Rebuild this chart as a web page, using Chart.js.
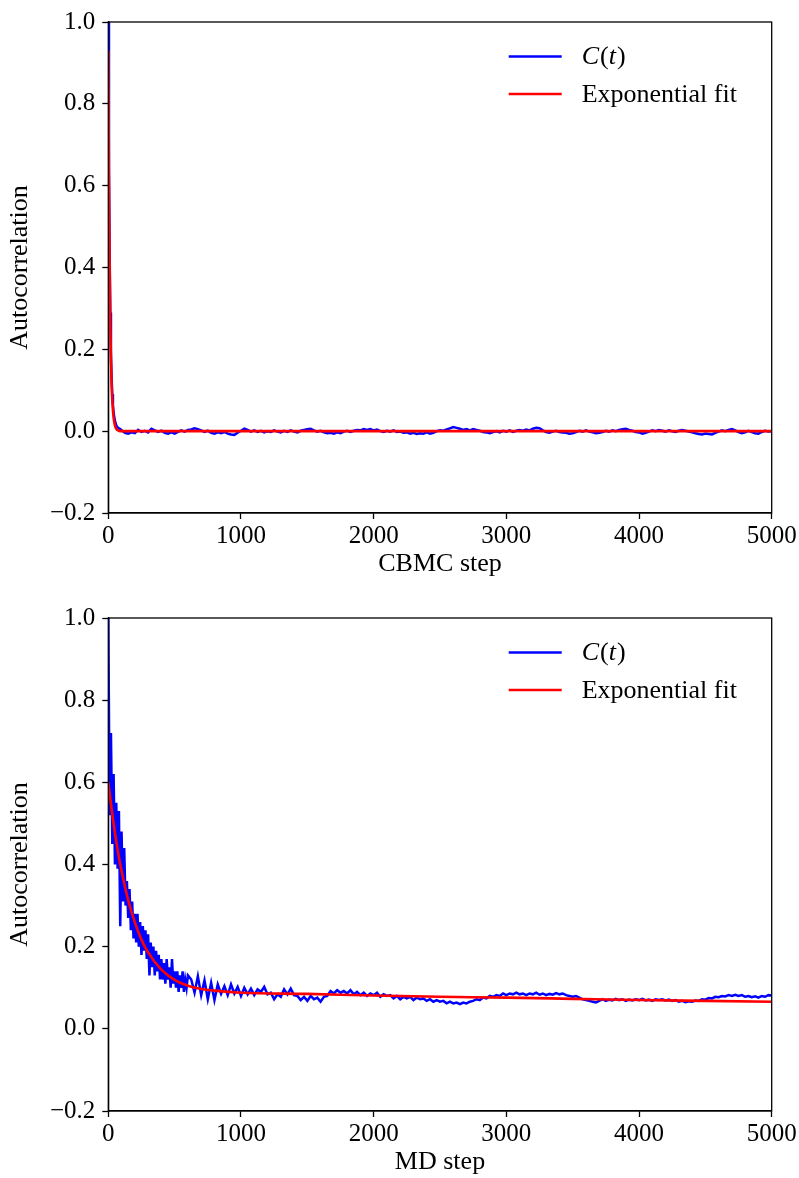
<!DOCTYPE html>
<html>
<head>
<meta charset="utf-8">
<script src="https://cdn.jsdelivr.net/npm/chart.js@4.4.1/dist/chart.umd.min.js"></script>
<style>
  html, body { margin: 0; padding: 0; background: #fff; }
  canvas { display: block; }
</style>
</head>
<body>
<canvas id="cbmc" width="799" height="589"></canvas>
<canvas id="md" width="799" height="589"></canvas>
<script>
// tick labels
const xTicks = [0, 1000, 2000, 3000, 4000, 5000];
const yTicks = [-0.2, 0.0, 0.2, 0.4, 0.6, 0.8, 1.0];

// ---- CBMC (top panel) ----
const cbmcHeadSteps = [0, 5, 10, 15, 20, 25, 30, 35, 40, 50, 60, 70, 80, 90, 100];
const cbmcHeadC = [1.0, 0.64, 0.44, 0.29, 0.19, 0.13, 0.09, 0.065, 0.045, 0.025, 0.014, 0.009, 0.007, 0.005, 0.002];
// from step 125 on, every 25 steps
const cbmcTailC = [
  -0.004, -0.006, -0.003, -0.005, 0.003, -0.002, 0.001, -0.003, 0.006, 0.002,
  -0.002, 0.001, -0.004, -0.006, -0.003, -0.006, -0.002, 0.002, -0.001, 0.003,
  0.004, 0.007, 0.005, 0.002, -0.002, 0.001, -0.004, -0.006, -0.003, -0.005,
  -0.002, -0.006, -0.008, -0.009, -0.004, 0.001, 0.006, 0.003, -0.001, 0.002,
  -0.002, 0.001, -0.003, 0.000, -0.002, 0.002, -0.001, -0.003, 0.001, -0.002,
  0.002, -0.001, -0.003, 0.001, 0.003, 0.005, 0.006, 0.002, -0.001, 0.001,
  -0.003, -0.005, -0.004, -0.006, -0.003, -0.005, -0.001, 0.001, -0.002, 0.001,
  0.003, 0.002, 0.005, 0.003, 0.005, 0.002, 0.004, 0.000, -0.002, 0.001,
  -0.001, 0.002, -0.002, -0.001, -0.004, -0.003, -0.006, -0.004, -0.007, -0.005,
  -0.006, -0.003, -0.006, -0.004, 0.000, 0.002, 0.001, 0.004, 0.007, 0.010,
  0.008, 0.006, 0.003, 0.005, 0.002, 0.005, 0.003, 0.001, -0.002, -0.003,
  -0.005, -0.002, 0.000, -0.003, 0.001, -0.001, 0.002, -0.002, 0.001, 0.003,
  0.001, 0.004, 0.002, 0.006, 0.008, 0.007, 0.002, -0.002, -0.004, -0.001,
  0.001, -0.002, -0.003, -0.004, -0.006, -0.005, -0.002, 0.001, -0.001, 0.002,
  -0.001, -0.003, -0.005, -0.004, -0.002, 0.001, -0.001, 0.002, 0.000, 0.003,
  0.005, 0.006, 0.003, 0.001, -0.002, -0.003, -0.006, -0.004, -0.001, 0.002,
  0.000, 0.003, 0.001, -0.001, 0.002, 0.000, -0.002, 0.001, 0.003, 0.001,
  -0.001, -0.003, -0.005, -0.007, -0.008, -0.006, -0.007, -0.008, -0.004, -0.001,
  0.002, 0.000, 0.003, 0.005, 0.002, -0.002, -0.005, -0.003, 0.001, -0.002,
  -0.005, -0.006, -0.002, 0.001, -0.001, 0.000
];
const cbmcFitSteps = [0, 5, 10, 15, 20, 25, 30, 40, 50, 60, 80, 100, 200, 5000];
const cbmcFit = [0.93, 0.611, 0.405, 0.266, 0.176, 0.116, 0.076, 0.033, 0.014, 0.006, 0.001, 0, 0, 0];

// ---- MD (bottom panel) ----
// steps 0..600, every 10 steps
const mdHeadC = [
  1.00, 0.52, 0.72, 0.45, 0.62, 0.40, 0.55, 0.39, 0.53, 0.25,
  0.48, 0.31, 0.44, 0.30, 0.36, 0.27, 0.34, 0.24, 0.31, 0.22,
  0.28, 0.21, 0.28, 0.20, 0.26, 0.18, 0.25, 0.19, 0.24, 0.17,
  0.23, 0.13, 0.21, 0.15, 0.20, 0.13, 0.19, 0.14, 0.18, 0.12,
  0.17, 0.12, 0.16, 0.11, 0.17, 0.12, 0.15, 0.10, 0.17, 0.11,
  0.14, 0.10, 0.14, 0.09, 0.13, 0.10, 0.14, 0.09, 0.12, 0.10,
  0.13
];
// steps 625..5000, every 25 steps
const mdTailC = [
  0.120, 0.088, 0.128, 0.082, 0.118, 0.072, 0.112, 0.070, 0.108, 0.085,
  0.104, 0.082, 0.108, 0.086, 0.102, 0.080, 0.100, 0.084, 0.098, 0.082,
  0.096, 0.090, 0.102, 0.084, 0.088, 0.072, 0.084, 0.078, 0.096, 0.084,
  0.098, 0.082, 0.080, 0.070, 0.078, 0.068, 0.080, 0.072, 0.076, 0.066,
  0.078, 0.080, 0.092, 0.086, 0.094, 0.088, 0.092, 0.086, 0.094, 0.084,
  0.090, 0.082, 0.088, 0.080, 0.086, 0.082, 0.088, 0.078, 0.084, 0.080,
  0.082, 0.074, 0.080, 0.072, 0.078, 0.074, 0.078, 0.070, 0.076, 0.072,
  0.074, 0.068, 0.072, 0.066, 0.070, 0.066, 0.068, 0.062, 0.066, 0.062,
  0.064, 0.060, 0.064, 0.062, 0.066, 0.068, 0.072, 0.070, 0.076, 0.074,
  0.080, 0.078, 0.082, 0.080, 0.086, 0.082, 0.086, 0.084, 0.088, 0.084,
  0.086, 0.082, 0.086, 0.084, 0.088, 0.083, 0.086, 0.082, 0.085, 0.083,
  0.087, 0.084, 0.086, 0.082, 0.080, 0.078, 0.080, 0.076, 0.072, 0.070,
  0.068, 0.066, 0.064, 0.068, 0.072, 0.068, 0.071, 0.069, 0.073, 0.070,
  0.072, 0.068, 0.071, 0.069, 0.072, 0.070, 0.073, 0.069, 0.071, 0.068,
  0.072, 0.070, 0.072, 0.069, 0.071, 0.068, 0.070, 0.066, 0.068, 0.065,
  0.067, 0.066, 0.069, 0.068, 0.072, 0.071, 0.075, 0.074, 0.078, 0.077,
  0.080, 0.079, 0.082, 0.080, 0.083, 0.080, 0.082, 0.078, 0.080, 0.077,
  0.079, 0.076, 0.080, 0.078, 0.082, 0.081
];
const mdFitSteps = [0, 25, 50, 75, 100, 150, 200, 250, 300, 400, 500, 600, 700, 800, 1000, 1500, 2000, 2500, 3000, 3500, 4000, 4500, 5000];
const mdFit = [0.600, 0.535, 0.477, 0.427, 0.384, 0.313, 0.259, 0.217, 0.186, 0.144, 0.119, 0.105, 0.097, 0.093, 0.088, 0.085, 0.081, 0.078, 0.076, 0.073, 0.070, 0.068, 0.066];

const FONT = "'Liberation Serif', 'DejaVu Serif', serif";

function toPoints(steps, vals) {
  return vals.map((v, i) => ({ x: steps[i], y: v }));
}
function grid(start, every, vals) {
  return vals.map((v, i) => ({ x: start + i * every, y: v }));
}

// box around the axes + the legend in the upper right corner
const boxAndLegend = {
  id: "boxAndLegend",
  afterDatasetsDraw(chart) {
    const a = chart.chartArea;
    const ctx = chart.ctx;
    ctx.save();
    ctx.strokeStyle = "#000";
    ctx.lineWidth = 1.3;
    ctx.strokeRect(a.left, a.top, a.right - a.left, a.bottom - a.top);

    const rows = [
      { color: "#0000ff", parts: [["C", true], ["(", false], ["t", true], [")", false]] },
      { color: "#ff0000", parts: [["Exponential fit", false]] }
    ];
    rows.forEach((r, i) => {
      const y = a.top + 34.5 + i * 37.5;
      ctx.strokeStyle = r.color;
      ctx.lineWidth = 2.6;
      ctx.beginPath();
      ctx.moveTo(a.right - 263, y);
      ctx.lineTo(a.right - 210, y);
      ctx.stroke();
      let x = a.right - 190;
      ctx.fillStyle = "#000";
      ctx.textBaseline = "middle";
      r.parts.forEach(([t, it]) => {
        ctx.font = (it ? "italic " : "") + "26px " + FONT;
        ctx.fillText(t, x, y + 1);
        x += ctx.measureText(t).width + (it ? 1 : 0);
      });
    });
    ctx.restore();
  }
};

function makeChart(id, cData, fitData, xTitle, topPad, xAxisH, titlePad) {
  return new Chart(document.getElementById(id), {
    type: "line",
    data: {
      datasets: [
        { label: "C(t)", data: cData, borderColor: "#0000ff", borderWidth: 2.5, pointRadius: 0, tension: 0, order: 2 },
        { label: "Exponential fit", data: fitData, borderColor: "#ff0000", borderWidth: 2.6, pointRadius: 0, cubicInterpolationMode: "monotone", order: 1 }
      ]
    },
    options: {
      responsive: false,
      animation: false,
      events: [],
      layout: { padding: { left: 0, right: 27.3, top: topPad, bottom: 0 } },
      plugins: { legend: { display: false }, tooltip: { enabled: false } },
      scales: {
        x: {
          type: "linear",
          min: 0,
          max: 5000,
          afterFit: s => { s.height = xAxisH; },
          afterBuildTicks: s => { s.ticks = xTicks.map(v => ({ value: v })); },
          ticks: { color: "#000", font: { family: FONT, size: 25 }, padding: 2, maxRotation: 0, callback: v => String(v) },
          grid: { drawOnChartArea: false, tickLength: 6, tickWidth: 1.3, tickColor: "#000" },
          border: { color: "#000", width: 1.3 },
          title: { display: true, text: xTitle, color: "#000", font: { family: FONT, size: 26, lineHeight: 1.2 }, padding: { top: 0, bottom: titlePad } }
        },
        y: {
          min: -0.2,
          max: 1.0,
          afterFit: s => { s.width = 108.3; },
          afterBuildTicks: s => { s.ticks = yTicks.map(v => ({ value: v })); },
          ticks: {
            color: "#000",
            font: { family: FONT, size: 25 },
            padding: 7,
            callback: v => (v < -1e-9 ? "\u2212" : "") + Math.abs(v).toFixed(1)
          },
          grid: { drawOnChartArea: false, tickLength: 6, tickWidth: 1.3, tickColor: "#000" },
          border: { color: "#000", width: 1.3 },
          title: { display: true, text: "Autocorrelation", color: "#000", font: { family: FONT, size: 26, lineHeight: 1.2 }, padding: { top: 5, bottom: 0 } }
        }
      }
    },
    plugins: [boxAndLegend]
  });
}

const cbmcC = toPoints(cbmcHeadSteps, cbmcHeadC).concat(grid(125, 25, cbmcTailC));
const mdC = grid(0, 10, mdHeadC).concat(grid(625, 25, mdTailC));

makeChart("cbmc", cbmcC, toPoints(cbmcFitSteps, cbmcFit), "CBMC step", 18.7, 76, 9);
makeChart("md", mdC, toPoints(mdFitSteps, mdFit), "MD step", 29, 67, 0);
</script>
</body>
</html>
